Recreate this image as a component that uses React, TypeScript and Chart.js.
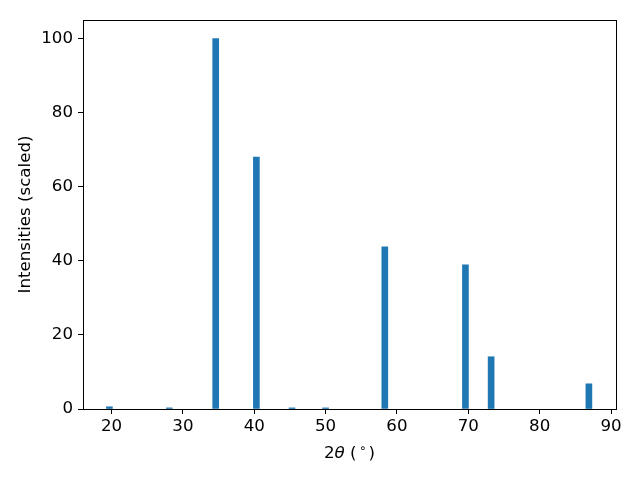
import React, { useEffect, useRef } from "react";
import { Chart, registerables } from "chart.js";

Chart.register(...registerables);

// Peak positions (2θ, degrees) and scaled intensities
const peakPositions = [19.7, 28.1, 34.6, 40.3, 45.3, 50.0, 58.3, 69.6, 73.2, 86.9];
const intensities = [0.6, 0.3, 100, 68, 0.3, 0.3, 43.8, 38.9, 14.1, 6.8];
const xTicks = [20, 30, 40, 50, 60, 70, 80, 90];
const yTicks = [0, 20, 40, 60, 80, 100];
const yLabel = "Intensities (scaled)";

const FONT = "'DejaVu Sans', sans-serif";
const FS = 16.67;

const frame = {
  id: "frame",
  afterDraw(chart: any) {
    const { ctx, chartArea } = chart;
    ctx.save();
    ctx.strokeStyle = "#000";
    ctx.lineWidth = 1;
    const l = Math.round(chartArea.left) + 0.5;
    const t = Math.round(chartArea.top) + 0.5;
    const r = Math.round(chartArea.right) + 0.5;
    const b = Math.round(chartArea.bottom) + 0.5;
    ctx.strokeRect(l, t, r - l, b - t);

    // x-axis title: 2θ (°) with italic θ and superscript degree
    const pieces = [
      { t: "2", font: `${FS}px ${FONT}`, dy: 0 },
      { t: "θ", font: `italic ${FS}px ${FONT}`, dy: 0 },
      { t: " (", font: `${FS}px ${FONT}`, dy: 0 },
      { t: "\u2009∘\u2009", font: `${FS * 0.7}px ${FONT}`, dy: -6 },
      { t: ")", font: `${FS}px ${FONT}`, dy: 0 },
    ];
    let total = 0;
    const widths = pieces.map((p) => {
      ctx.font = p.font;
      const w = ctx.measureText(p.t).width;
      total += w;
      return w;
    });
    let x = (chartArea.left + chartArea.right) / 2 - total / 2;
    const baseY = 458;
    ctx.fillStyle = "#000";
    ctx.textBaseline = "alphabetic";
    ctx.textAlign = "left";
    pieces.forEach((p, i) => {
      ctx.font = p.font;
      ctx.fillText(p.t, x, baseY + p.dy);
      x += widths[i];
    });
    ctx.restore();
  },
};

export default function App() {
  const ref = useRef<HTMLCanvasElement | null>(null);
  useEffect(() => {
    if (!ref.current) return;
    const chart = new Chart(ref.current, {
      type: "bar",
      data: {
        datasets: [
          {
            data: peakPositions.map((x, i) => ({ x, y: intensities[i] })),
            backgroundColor: "#1f77b4",
            borderWidth: 0,
            barThickness: 6,
          },
        ],
      },
      options: {
        responsive: false,
        animation: false,
        layout: { padding: { left: 0, top: 20, right: 24, bottom: 0 } },
        plugins: { legend: { display: false }, tooltip: { enabled: false } },
        scales: {
          x: {
            type: "linear",
            offset: false,
            min: 16.0,
            max: 90.7,
            afterBuildTicks: (s: any) => {
              s.ticks = xTicks.map((v) => ({ value: v }));
            },
            afterFit: (s: any) => {
              s.height = 71;
            },
            grid: {
              display: true,
              offset: false,
              drawOnChartArea: false,
              drawTicks: true,
              tickLength: 5,
              tickColor: "#000",
            },
            border: { display: false },
            ticks: {
              color: "#000",
              padding: 3,
              font: { family: FONT, size: FS },
              maxRotation: 0,
            },
            title: { display: false },
          },
          y: {
            type: "linear",
            min: 0,
            max: 105,
            afterBuildTicks: (s: any) => {
              s.ticks = yTicks.map((v) => ({ value: v }));
            },
            afterFit: (s: any) => {
              s.width = 83;
            },
            grid: {
              display: true,
              offset: false,
              drawOnChartArea: false,
              drawTicks: true,
              tickLength: 5,
              tickColor: "#000",
            },
            border: { display: false },
            ticks: {
              color: "#000",
              padding: 5,
              font: { family: FONT, size: FS },
            },
            title: {
              display: true,
              text: yLabel,
              color: "#000",
              font: { family: FONT, size: FS },
              padding: { top: 16, bottom: 0 },
            },
          },
        },
      },
      plugins: [frame],
    });
    return () => chart.destroy();
  }, []);
  return (
    <div style={{ position: "absolute", left: 0, top: 0, width: 640, height: 480, background: "#fff" }}>
      <canvas ref={ref} width={640} height={480} />
    </div>
  );
}
